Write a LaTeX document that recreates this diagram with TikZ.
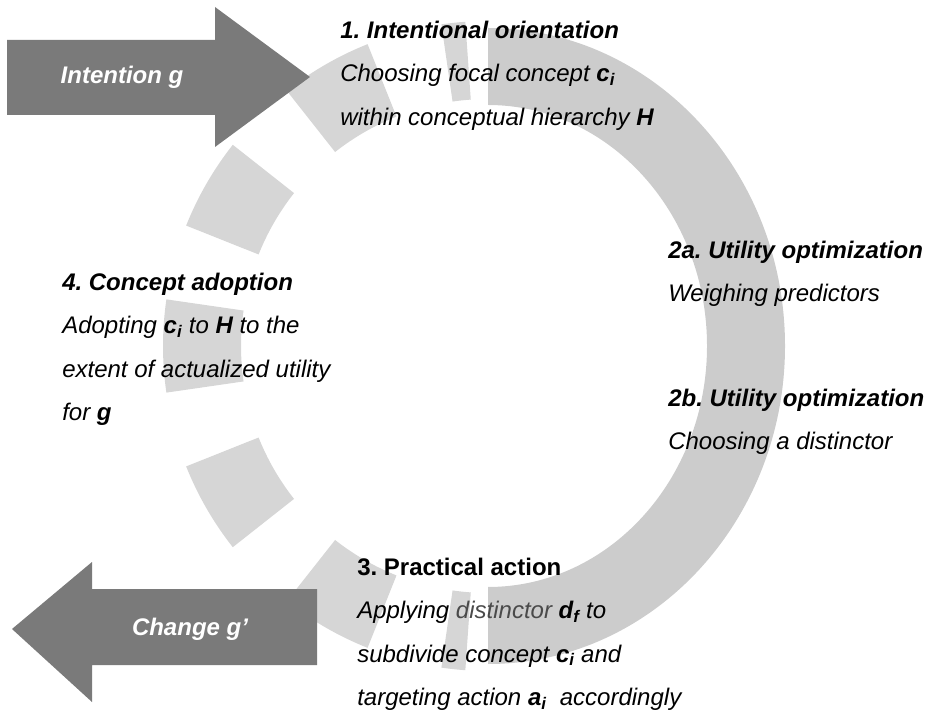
\documentclass[tikz,border=0pt]{standalone}
\usepackage{fontspec}
\setmainfont{Liberation Sans}
\frenchspacing
\definecolor{ringgray}{HTML}{CCCCCC}
\definecolor{dashgray}{HTML}{D6D6D6}
\definecolor{arrowgray}{HTML}{7A7A7A}
\definecolor{softblack}{HTML}{4A4A4A}
\tikzset{every picture/.style={line width=0.5pt}}
\tikzstyle{stage}=[anchor=north west,align=left,inner sep=0pt,font=\fontsize{24}{43.5}\selectfont]
\tikzstyle{bigarrow}=[fill=arrowgray]
\tikzstyle{arrowtext}=[text=white,inner sep=0pt,font=\fontsize{24}{28}\selectfont\bfseries\itshape]

\begin{document}
\begin{tikzpicture}[x=1pt,y=1pt]
\useasboundingbox (0,0) rectangle (925,712);
\coordinate (O) at (488,366);
% solid half of the cycle
\fill[ringgray] ([shift={(0,318)}]O) arc[start angle=90,end angle=-90,x radius=297,y radius=318]
  -- ([shift={(0,-241)}]O) arc[start angle=-90,end angle=90,x radius=219,y radius=241] -- cycle;
% dashed half
\foreach \a/\b in {94/98.25,111.75/128.25,141.75/158.25,171.75/188.25,201.75/218.25,231.75/248.25,261.75/266}
  \fill[dashgray] ([shift={(\a:325)}]O) arc[start angle=\a,end angle=\b,radius=325]
    -- ([shift={(\b:247)}]O) arc[start angle=\b,end angle=\a,radius=247] -- cycle;
% in and out
\fill[bigarrow] (7,672) -- (215,672) -- (215,705) -- (310,635) -- (215,565) -- (215,597) -- (7,597) -- cycle;
\fill[bigarrow] (317,123) -- (92,123) -- (92,150) -- (12,83) -- (92,10) -- (92,47) -- (317,47) -- cycle;
\node[arrowtext] (In) at (122,635) {Intention g};
\node[arrowtext] (Out) at (190,83) {Change g’};
% stages
\node[stage] (S1) at (340,691.5) {\textbf{\textit{1. Intentional orientation}}\\
  \textit{Choosing focal concept \textbf{c\textsubscript{i}}}\\
  \textit{within conceptual hierarchy \textbf{H}}};
\node[stage] (S2a) at (668,471.5) {\textbf{\textit{2a. Utility optimization}}\\
  \textit{Weighing predictors}};
\node[stage] (S2b) at (668,323.5) {\textbf{\textit{2b. Utility optimization}}\\
  \textit{Choosing a distinctor}};
\node[stage] (S3) at (357,154.5) {\textbf{3. Practical action}\\
  \textit{Applying {\color{softblack}distinctor} \textbf{d\textsubscript{f}} to}\\
  \textit{subdivide concept \textbf{c\textsubscript{i}} and}\\
  \textit{targeting action \textbf{a\textsubscript{i}}\ \ accordingly}};
\node[stage] (S4) at (62,439.5) {\textbf{\textit{4. Concept adoption}}\\
  \textit{Adopting \textbf{c\textsubscript{i}} to \textbf{H} to the}\\
  \textit{extent of actualized utility}\\
  \textit{for \textbf{g}}};
\end{tikzpicture}
\end{document}
